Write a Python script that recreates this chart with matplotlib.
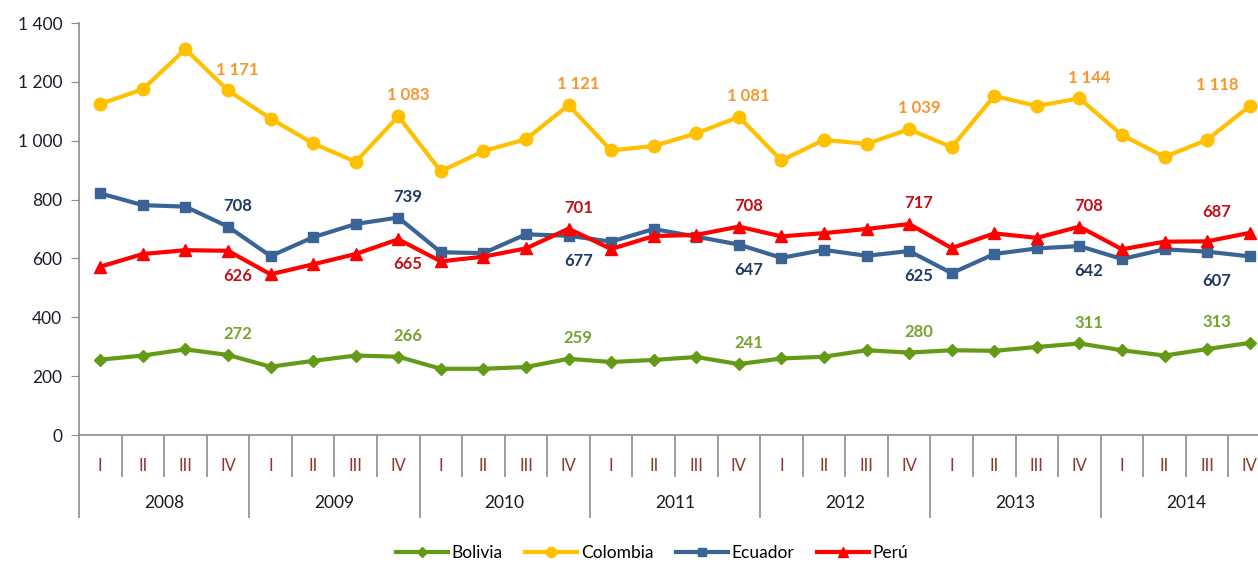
import matplotlib
matplotlib.use("Agg")
import matplotlib.pyplot as plt
import matplotlib.transforms as mtransforms
from matplotlib.ticker import FuncFormatter, FixedLocator

plt.rcParams['font.family'] = ['Lato', 'DejaVu Sans']

years = ["2008", "2009", "2010", "2011", "2012", "2013", "2014"]
quarters = ["I", "II", "III", "IV"]

bolivia = [256, 270, 291, 272, 232, 252, 270, 266, 225, 225, 231, 259,
           248, 255, 265, 241, 260, 266, 288, 280, 288, 286, 299, 311,
           288, 270, 292, 313]
colombia = [1125, 1175, 1311, 1171, 1075, 991, 928, 1083, 896, 965, 1005, 1121,
            967, 982, 1025, 1081, 933, 1003, 989, 1039, 978, 1152, 1118, 1144,
            1019, 945, 1003, 1118]
ecuador = [821, 781, 776, 708, 608, 672, 717, 739, 621, 618, 682, 677,
           657, 700, 674, 647, 602, 629, 609, 625, 550, 615, 634, 642,
           598, 631, 623, 607]
peru = [572, 615, 628, 626, 546, 580, 615, 665, 590, 606, 634, 701,
        632, 676, 680, 708, 675, 686, 700, 717, 635, 685, 670, 708,
        631, 657, 658, 687]

# labelled points: (index of value, category where label sits, above?)
col_labels = [(3, 3, True), (7, 7, True), (11, 11, True), (15, 15, True),
              (19, 19, True), (23, 23, True), (27, 26, True)]
ecu_labels = [(3, 3, True), (7, 7, True), (11, 11, False), (15, 15, False),
              (19, 19, False), (23, 23, False), (27, 26, False)]
per_labels = [(3, 3, False), (7, 7, False), (11, 11, True), (15, 15, True),
              (19, 19, True), (23, 23, True), (27, 26, True)]
bol_labels = [(3, 3, True), (7, 7, True), (11, 11, True), (15, 15, True),
              (19, 19, True), (23, 23, True), (27, 26, True)]

def fmt(v):
    return f"{int(v):,}".replace(",", " ")

fig = plt.figure(figsize=(12.58, 5.63), dpi=100)
ax = fig.add_axes([79 / 1258, 1 - 435 / 563, 1192 / 1258, 412 / 563])

x = list(range(len(colombia)))
series = [
    ("Bolivia", bolivia, '#649B16', '#78A22F', 'D', 6.5, bol_labels),
    ("Colombia", colombia, '#FFC000', '#F7962F', 'o', 9, col_labels),
    ("Ecuador", ecuador, '#3A6496', '#1F3864', 's', 7.5, ecu_labels),
    ("Perú", peru, '#FF0000', '#C0121C', '^', 8.5, per_labels),
]

handles = []
for name, vals, lc, tc, mk, ms, labs in series:
    h, = ax.plot(x, vals, color=lc, lw=3, marker=mk, markersize=ms,
                 label=name, clip_on=False, zorder=3)
    handles.append(h)
    for vi, xi, above in labs:
        ax.annotate(fmt(vals[vi]), (xi, vals[vi]),
                    xytext=(7, 15 if above else -18), textcoords='offset points',
                    ha='center', va='center', fontsize=12, fontweight='bold',
                    color=tc, zorder=5)

ax.set_ylim(0, 1400)
ax.set_xlim(-0.5, 27.5)
ax.set_yticks(range(0, 1401, 200))
ax.yaxis.set_major_formatter(FuncFormatter(lambda v, p: fmt(v)))
ax.tick_params(axis='y', length=6, color='#8c8c8c', labelsize=12.5,
               labelcolor='#1c1c30', pad=6)

for s in ['top', 'right']:
    ax.spines[s].set_visible(False)
ax.spines['left'].set_color('#8c8c8c')
ax.spines['bottom'].set_color('#8c8c8c')
ax.spines['left'].set_linewidth(1.2)
ax.spines['bottom'].set_linewidth(1.2)

# two-level category axis
ax.xaxis.set_major_locator(FixedLocator([i * 4 - 0.5 for i in range(len(years) + 1)]))
ax.xaxis.set_minor_locator(FixedLocator([i - 0.5 for i in range(len(x) + 1) if i % 4]))
ax.tick_params(axis='x', which='major', length=60, color='#8c8c8c', width=1.2,
               labelbottom=False)
ax.tick_params(axis='x', which='minor', length=30, color='#8c8c8c', width=1.2,
               labelbottom=False)

trans = mtransforms.blended_transform_factory(ax.transData, ax.transAxes)
for i in x:
    ax.text(i, -31 / 412, quarters[i % 4], transform=trans, ha='center',
            va='center', fontsize=12, color='#8A3A2E')
for j, yr in enumerate(years):
    ax.text(j * 4 + 1.5, -68 / 412, yr, transform=trans, ha='center',
            va='center', fontsize=12.5, color='#1a1a1a')

fig.legend(handles=handles, loc='center', bbox_to_anchor=(652 / 1258, 1 - 553 / 563),
           ncol=4, frameon=False, fontsize=12.5, handlelength=3.0,
           handletextpad=0.2, columnspacing=1.3, markerscale=0.8)

fig.savefig("out.png", dpi=100)
